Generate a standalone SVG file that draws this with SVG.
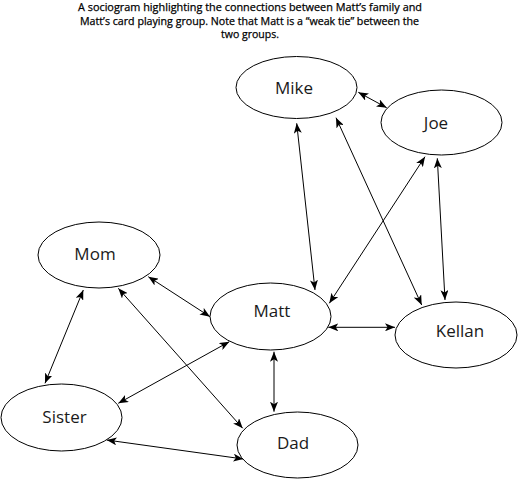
<svg xmlns="http://www.w3.org/2000/svg" width="518" height="479" viewBox="0 0 518 479">
<style>
.node ellipse{fill:#fff;stroke:#000;stroke-width:1}
.node text{font-family:"Open Sans","Noto Sans",sans-serif;font-size:17px;fill:#1a1a1a;text-anchor:middle}
.title{font-family:"Open Sans","Noto Sans",sans-serif;font-size:10.5px;fill:#000;text-anchor:middle;stroke:#000;stroke-width:0.25}
#connectors line{stroke:#000;stroke-width:1;marker-start:url(#ah);marker-end:url(#ah)}
</style>
<defs>
<marker id="ah" viewBox="0 0 10 8" refX="10" refY="4" markerWidth="10" markerHeight="8" markerUnits="userSpaceOnUse" orient="auto-start-reverse">
<path d="M0,0 L10,4 L0,8 L2.5,4 Z" fill="#000"/>
</marker>
</defs>
<rect width="518" height="479" fill="#fff"/>
<g id="title">
<text class="title" x="250" y="11" textLength="344" lengthAdjust="spacingAndGlyphs">A sociogram highlighting the connections between Matt’s family and</text>
<text class="title" x="249.5" y="24.5" textLength="339" lengthAdjust="spacingAndGlyphs">Matt’s card playing group. Note that Matt is a “weak tie” between the</text>
<text class="title" x="250" y="38" textLength="58" lengthAdjust="spacingAndGlyphs">two groups.</text>
</g>
<g id="connectors">
<line x1="358.3" y1="92.3" x2="386.7" y2="107.7"/>
<line x1="296.7" y1="123.3" x2="315" y2="290"/>
<line x1="336" y1="117.7" x2="421.7" y2="305"/>
<line x1="425" y1="156.7" x2="329.3" y2="303.3"/>
<line x1="437.3" y1="158.3" x2="445" y2="300"/>
<line x1="328.3" y1="327.3" x2="395" y2="327.3"/>
<line x1="274" y1="351.7" x2="274" y2="411.7"/>
<line x1="148.3" y1="276.7" x2="210" y2="316.7"/>
<line x1="83.3" y1="290" x2="45" y2="383.3"/>
<line x1="118.3" y1="288.3" x2="242.7" y2="428.3"/>
<line x1="118.3" y1="403.3" x2="229.3" y2="341.7"/>
<line x1="106.7" y1="440" x2="243.3" y2="459"/>
</g>
<g id="mike" class="node"><ellipse cx="296.5" cy="87.5" rx="60.5" ry="31"/><text x="294" y="94">Mike</text></g>
<g id="joe" class="node"><ellipse cx="441.5" cy="122.5" rx="60.5" ry="32.5"/><text x="436" y="129">Joe</text></g>
<g id="mom" class="node"><ellipse cx="99" cy="255" rx="61" ry="33"/><text x="95" y="260">Mom</text></g>
<g id="matt" class="node"><ellipse cx="270.5" cy="316.5" rx="60.5" ry="33.5"/><text x="272" y="317">Matt</text></g>
<g id="kellan" class="node"><ellipse cx="456" cy="335" rx="61" ry="33"/><text x="460" y="337">Kellan</text></g>
<g id="sister" class="node"><ellipse cx="61.5" cy="417.5" rx="60.5" ry="33.5"/><text x="64.5" y="422.5">Sister</text></g>
<g id="dad" class="node"><ellipse cx="297.5" cy="445" rx="60.5" ry="33"/><text x="293" y="448.5">Dad</text></g>
</svg>
